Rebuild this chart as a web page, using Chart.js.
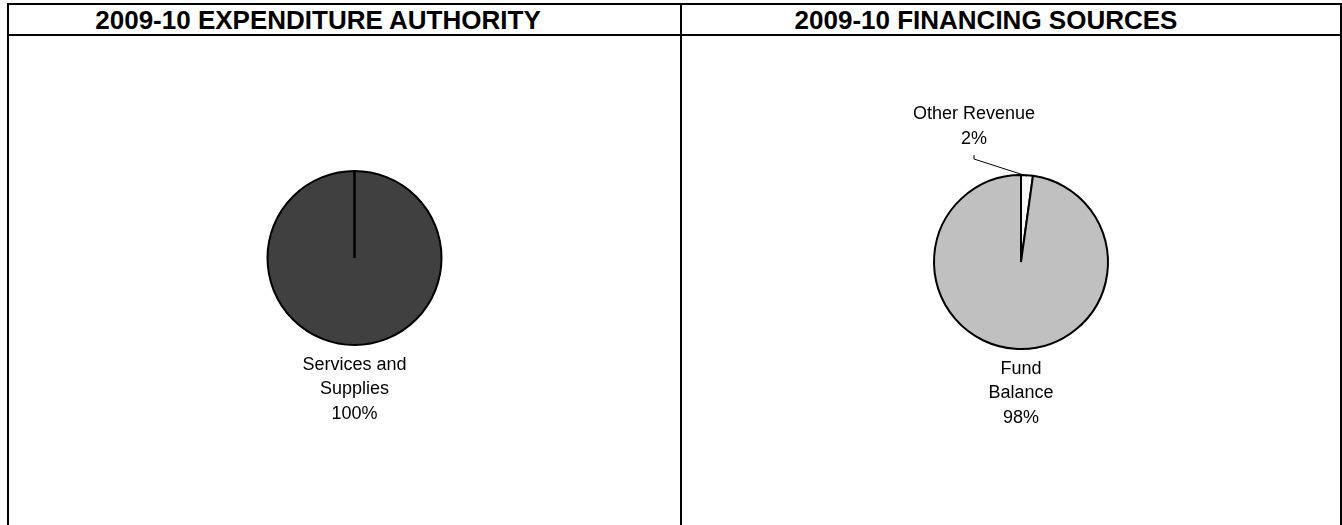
<!DOCTYPE html>
<html>
<head>
<meta charset="utf-8">
<title>2009-10 Expenditure Authority / Financing Sources</title>
<script src="https://cdn.jsdelivr.net/npm/chart.js@4.4.0/dist/chart.umd.min.js"></script>
<style>
  html, body { margin: 0; padding: 0; background: #fff; overflow: hidden; }
  body { width: 1342px; height: 525px; position: relative; font-family: "Liberation Sans", Arial, sans-serif; }
  .frame { position: absolute; left: 7px; top: 3px; width: 1335px; height: 600px; border: 2px solid #000; box-sizing: border-box; }
  .hline { position: absolute; left: 7px; top: 34px; width: 1335px; height: 2px; background: #000; }
  .vline { position: absolute; left: 680px; top: 3px; width: 2px; height: 600px; background: #000; }
  .title { position: absolute; top: 6px; width: 600px; height: 29px; line-height: 29px; text-align: center;
           font-weight: bold; font-size: 26px; color: #000; white-space: nowrap; }
  .wrap { position: absolute; }
</style>
</head>
<body>
<div class="frame"></div>
<div class="hline"></div>
<div class="vline"></div>
<div class="title" style="left:18px">2009-10 EXPENDITURE AUTHORITY</div>
<div class="title" style="left:686px">2009-10 FINANCING SOURCES</div>

<div class="wrap" style="left:10px;top:37px;width:689px;height:442px"><canvas id="expChart"></canvas></div>
<div class="wrap" style="left:701px;top:37px;width:640px;height:450px"><canvas id="finChart"></canvas></div>

<script>
// expenditure authority (percent of total)
const expLabels = [['Services and', 'Supplies']];
const expValues = [100];
const expColors = ['#404040'];

// financing sources (percent of total), clockwise from 12 o'clock
const finLabels = [['Other Revenue'], ['Fund', 'Balance']];
const finValues = [2.2, 97.8];
const finColors = ['#f7f7f7', '#c0c0c0'];

const labelFont = '18px "Liberation Sans", Arial, sans-serif';

// draws the category / percent labels next to each slice
const pieLabels = {
  id: 'pieLabels',
  afterDatasetsDraw(chart, args, opts) {
    const ctx = chart.ctx;
    const meta = chart.getDatasetMeta(0);
    const data = chart.data.datasets[0].data;
    const total = data.reduce((a, b) => a + b, 0);
    ctx.save();
    ctx.font = labelFont;
    ctx.fillStyle = '#000';
    ctx.strokeStyle = '#000';
    ctx.textAlign = 'center';
    ctx.textBaseline = 'middle';

    meta.data.forEach((arc, i) => {
      const p = arc.getProps(['x', 'y', 'startAngle', 'endAngle', 'outerRadius'], true);
      const lines = chart.data.labels[i].concat(Math.round(data[i] / total * 100) + '%');
      const place = (opts.place || [])[i] || 'below';

      if (place === 'below') {
        const y0 = p.y + p.outerRadius + 20;
        lines.forEach((t, k) => ctx.fillText(t, p.x, y0 + k * 24.5));
      } else {
        const top = p.y - p.outerRadius;
        const lx = p.x - 47;
        lines.forEach((t, k) => ctx.fillText(t, lx, top - 61 + k * 25));
        // leader line
        const mid = (p.startAngle + p.endAngle) / 2;
        const ex = p.x + Math.cos(mid) * p.outerRadius * 0.99;
        const ey = p.y + Math.sin(mid) * p.outerRadius * 0.99;
        ctx.lineWidth = 1;
        ctx.beginPath();
        ctx.moveTo(lx, top - 20);
        ctx.lineTo(lx, top - 16);
        ctx.lineTo(ex, ey);
        ctx.stroke();
      }
    });

    // a single full slice: Chart.js draws only the circle, add the seam line
    if (meta.data.length === 1) {
      const p = meta.data[0].getProps(['x', 'y', 'startAngle', 'outerRadius'], true);
      ctx.lineWidth = 2;
      ctx.beginPath();
      ctx.moveTo(p.x, p.y);
      ctx.lineTo(p.x + Math.cos(p.startAngle) * p.outerRadius, p.y + Math.sin(p.startAngle) * p.outerRadius);
      ctx.stroke();
    }
    ctx.restore();
  }
};

function makePie(id, labels, values, colors, place) {
  return new Chart(document.getElementById(id), {
    type: 'pie',
    data: {
      labels: labels,
      datasets: [{
        data: values,
        backgroundColor: colors,
        borderColor: '#000',
        borderWidth: 2
      }]
    },
    options: {
      responsive: true,
      maintainAspectRatio: false,
      animation: false,
      radius: 87,
      layout: { padding: 0 },
      plugins: {
        legend: { display: false },
        tooltip: { enabled: false },
        pieLabels: { place: place }
      }
    },
    plugins: [pieLabels]
  });
}

makePie('expChart', expLabels, expValues, expColors, ['below']);
makePie('finChart', finLabels, finValues, finColors, ['above', 'below']);
</script>
</body>
</html>
